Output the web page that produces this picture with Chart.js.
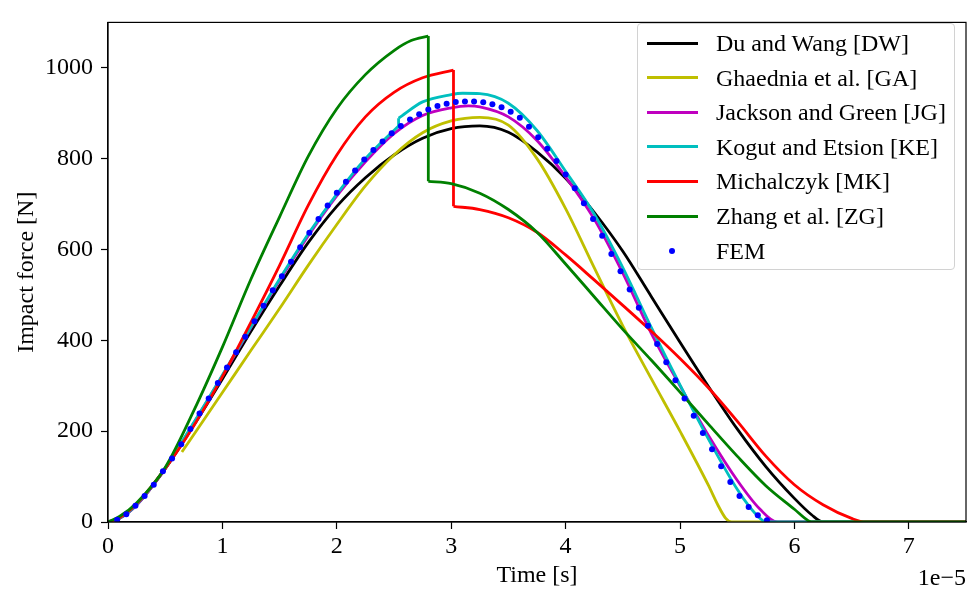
<!DOCTYPE html>
<html>
<head>
<meta charset="utf-8">
<title>Impact force</title>
<script src="https://cdn.jsdelivr.net/npm/chart.js@4.4.1/dist/chart.umd.min.js"></script>
<style>
  html, body { margin: 0; padding: 0; background: #fff; }
  #wrap { position: relative; width: 976px; height: 590px; font-family: 'Liberation Serif', 'Times New Roman', serif; }
  #legend {
    position: absolute; left: 637px; top: 23px; width: 318px; height: 247px;
    box-sizing: border-box; border: 1px solid #d2d2d2; border-radius: 4px;
    background: rgba(255, 255, 255, 0.8); font-size: 24px; color: #000;
  }
  .row { position: absolute; left: 0; right: 0; height: 34px; line-height: 34px; }
  .row .line { position: absolute; left: 9px; width: 51px; top: 15.5px; height: 3px; }
  .row .dot { position: absolute; left: 31px; top: 14px; width: 6px; height: 6px; border-radius: 50%; }
  .row .txt { position: absolute; left: 78px; white-space: nowrap; }
  #offset { position: absolute; right: 10px; top: 562px; font-size: 24px; line-height: 30px; }
</style>
</head>
<body>
<div id="wrap">
  <canvas id="chart" width="976" height="590"></canvas>
  <div id="legend"></div>
  <div id="offset">1e&minus;5</div>
</div>
<script>
// Impact force vs time, contact models compared with FEM
// time values are in units of 1e-5 s (see the offset label)

const seriesNames = [
    'Du and Wang [DW]',
    'Ghaednia et al. [GA]',
    'Jackson and Green [JG]',
    'Kogut and Etsion [KE]',
    'Michalczyk [MK]',
    'Zhang et al. [ZG]',
    'FEM'
];

const xTicks = [0, 1, 2, 3, 4, 5, 6, 7];
const yTicks = [0, 200, 400, 600, 800, 1000];

// Du and Wang
const dwTime  = [0, 0.1, 0.25, 0.5, 0.75, 1.0, 1.25, 1.5, 1.75, 2.0, 2.25, 2.5, 2.75, 3.0, 3.25, 3.5, 3.75, 4.0, 4.25, 4.5, 4.75, 5.0, 5.25, 5.5, 5.75, 6.0, 6.15, 6.25, 7.5];
const dwForce = [0, 8, 38, 117, 213, 315, 420, 520, 615, 695, 758, 808, 845, 866, 872, 858, 815, 757, 682, 596, 496, 396, 298, 205, 122, 52, 16, 0, 0];

// Ghaednia et al.
const gaTime  = [0.646, 1.0, 1.25, 1.5, 1.75, 2.0, 2.25, 2.5, 2.75, 3.0, 3.25, 3.5, 3.75, 4.0, 4.25, 4.5, 4.75, 5.0, 5.25, 5.33, 5.4, 5.45, 7.5];
const gaForce = [154, 285, 378, 470, 565, 655, 740, 808, 857, 883, 891, 874, 800, 690, 560, 432, 315, 200, 80, 38, 8, 0, 0];

// Jackson and Green
const jgTime  = [0, 0.1, 0.25, 0.5, 0.75, 1.0, 1.25, 1.5, 1.75, 2.0, 2.25, 2.5, 2.75, 3.0, 3.15, 3.25, 3.5, 3.75, 4.0, 4.25, 4.5, 4.75, 5.0, 5.25, 5.5, 5.7, 5.85, 7.5];
const jgForce = [0, 8, 37, 118, 218, 322, 428, 532, 630, 718, 793, 855, 895, 912, 916, 914, 892, 840, 760, 667, 548, 415, 300, 190, 92, 28, 0, 0];

// Kogut and Etsion (small step at ~2.54)
const keTime  = [0, 0.1, 0.25, 0.5, 0.75, 1.0, 1.25, 1.5, 1.75, 2.0, 2.25, 2.54, 2.54, 2.75, 3.0, 3.1, 3.25, 3.5, 3.75, 4.0, 4.25, 4.5, 4.75, 5.0, 5.25, 5.5, 5.6, 5.7, 5.75, 7.5];
const keForce = [0, 8, 38, 119, 219, 324, 430, 535, 634, 722, 800, 872, 889, 925, 941, 944, 943, 922, 862, 772, 678, 560, 428, 302, 182, 72, 36, 8, 0, 0];

// Michalczyk (drop at ~3.02)
const mkTime  = [0, 0.1, 0.25, 0.5, 0.75, 1.0, 1.25, 1.5, 1.75, 2.0, 2.25, 2.5, 2.75, 3.02, 3.02, 3.25, 3.5, 3.75, 4.0, 4.25, 4.5, 4.75, 5.0, 5.25, 5.5, 5.75, 6.0, 6.25, 6.5, 6.62, 7.5];
const mkForce = [0, 9, 40, 118, 212, 320, 440, 565, 697, 808, 892, 946, 978, 995, 695, 688, 670, 638, 588, 533, 477, 420, 360, 295, 222, 145, 82, 38, 8, 0, 0];

// Zhang et al. (drop at ~2.8)
const zgTime  = [0, 0.1, 0.25, 0.5, 0.75, 1.0, 1.25, 1.5, 1.75, 2.0, 2.25, 2.5, 2.65, 2.8, 2.8, 3.0, 3.25, 3.5, 3.75, 4.0, 4.25, 4.5, 4.75, 5.0, 5.25, 5.5, 5.75, 6.0, 6.12, 6.15, 7.5];
const zgForce = [0, 12, 42, 120, 245, 385, 535, 672, 805, 910, 985, 1038, 1060, 1070, 750, 745, 724, 688, 638, 568, 496, 424, 356, 286, 215, 145, 80, 28, 3, 0, 0];

// FEM samples
const femTime  = [0.08, 0.16, 0.24, 0.32, 0.40, 0.48, 0.56, 0.64, 0.72, 0.80, 0.88, 0.96, 1.04, 1.12, 1.20, 1.28, 1.36, 1.44, 1.52, 1.60,
                  1.68, 1.76, 1.84, 1.92, 2.00, 2.08, 2.16, 2.24, 2.32, 2.40, 2.48, 2.56, 2.64, 2.72, 2.80, 2.88, 2.96, 3.04, 3.12, 3.20,
                  3.28, 3.36, 3.44, 3.52, 3.60, 3.68, 3.76, 3.84, 3.92, 4.00, 4.08, 4.16, 4.24, 4.32, 4.40, 4.48, 4.56, 4.64, 4.72, 4.80,
                  4.88, 4.96, 5.04, 5.12, 5.20, 5.28, 5.36, 5.44, 5.52, 5.60, 5.68, 5.76];
const femForce = [5, 17, 36, 57, 82, 112, 140, 171, 205, 239, 272, 306, 340, 374, 408, 442, 476, 510, 541, 573,
                  605, 637, 667, 697, 725, 749, 774, 798, 819, 838, 856, 872, 886, 898, 908, 916, 921, 925, 926, 926,
                  924, 920, 913, 903, 890, 870, 847, 822, 795, 765, 735, 702, 667, 630, 590, 552, 512, 472, 432, 392,
                  352, 312, 272, 234, 196, 160, 123, 88, 57, 33, 15, 4];

const lineColors = ['#000000', '#bfbf00', '#bf00bf', '#00bfbf', '#ff0000', '#008000'];
const femColor = '#0000ff';
const FONT = "'Liberation Serif', 'Times New Roman', serif";
const FONT_SIZE = 24;

// Split a series where the time repeats (vertical jump), so the smooth
// pieces can use monotone interpolation and the jumps stay straight.
function splitPieces(times, forces) {
    const pieces = [];
    let cur = [];
    times.forEach((t, i) => {
        const p = { x: t, y: forces[i] };
        const last = cur[cur.length - 1];
        if (last && last.x === t) {
            pieces.push({ pts: cur, smooth: true });
            pieces.push({ pts: [last, p], smooth: false });
            cur = [p];
        } else {
            cur.push(p);
        }
    });
    pieces.push({ pts: cur, smooth: true });
    return pieces;
}

function lineDatasets(idx, times, forces) {
    return splitPieces(times, forces).map((piece, k) => ({
        label: seriesNames[idx],
        legendItem: k === 0,
        data: piece.pts,
        order: seriesNames.length - idx,
        borderColor: lineColors[idx],
        backgroundColor: lineColors[idx],
        borderWidth: 2.8,
        borderCapStyle: 'butt',
        pointRadius: 0,
        tension: 0,
        cubicInterpolationMode: piece.smooth ? 'monotone' : 'default',
        fill: false,
        clip: 0
    }));
}

const datasets = [
    ...lineDatasets(0, dwTime, dwForce),
    ...lineDatasets(1, gaTime, gaForce),
    ...lineDatasets(2, jgTime, jgForce),
    ...lineDatasets(3, keTime, keForce),
    ...lineDatasets(4, mkTime, mkForce),
    ...lineDatasets(5, zgTime, zgForce),
    {
        label: seriesNames[6],
        legendItem: true,
        data: femTime.map((t, i) => ({ x: t, y: femForce[i] })),
        order: 0,
        showLine: false,
        pointRadius: 3,
        pointBorderWidth: 0,
        pointBackgroundColor: femColor,
        backgroundColor: femColor,
        borderColor: femColor,
        clip: 0
    }
];

// full box around the axes, drawn over the curves like matplotlib spines
const framePlugin = {
    id: 'frame',
    afterDatasetsDraw(chart) {
        const { ctx, chartArea: a } = chart;
        ctx.save();
        ctx.strokeStyle = '#000';
        ctx.lineWidth = 1.2;
        ctx.strokeRect(a.left, a.top, a.right - a.left, a.bottom - a.top);
        ctx.restore();
    }
};

const axisGrid = {
    drawOnChartArea: false,
    drawTicks: true,
    tickLength: 7,
    tickColor: '#000',
    tickWidth: 1.2
};

const chart = new Chart(document.getElementById('chart').getContext('2d'), {
    type: 'line',
    data: { datasets },
    options: {
        responsive: false,
        animation: false,
        events: [],
        layout: { padding: { top: 10, right: 10, left: 0, bottom: 0 } },
        plugins: {
            legend: { display: false },
            tooltip: { enabled: false }
        },
        scales: {
            x: {
                type: 'linear',
                min: 0,
                max: 7.5,
                afterBuildTicks: (scale) => { scale.ticks = xTicks.map(v => ({ value: v })); },
                afterFit: (scale) => { scale.height = 68; },
                grid: axisGrid,
                border: { display: true, color: '#000', width: 1.2 },
                ticks: {
                    color: '#000',
                    padding: 3,
                    maxRotation: 0,
                    font: { family: FONT, size: FONT_SIZE },
                    callback: (v) => String(v)
                },
                title: {
                    display: true,
                    text: 'Time [s]',
                    color: '#000',
                    font: { family: FONT, size: FONT_SIZE },
                    padding: { top: 0, bottom: 0 }
                }
            },
            y: {
                type: 'linear',
                min: 0,
                max: 1100,
                afterBuildTicks: (scale) => { scale.ticks = yTicks.map(v => ({ value: v })); },
                afterFit: (scale) => { scale.width = 108; },
                grid: axisGrid,
                border: { display: true, color: '#000', width: 1.2 },
                ticks: {
                    color: '#000',
                    padding: 8,
                    font: { family: FONT, size: FONT_SIZE },
                    callback: (v) => String(v)
                },
                title: {
                    display: true,
                    text: 'Impact force [N]',
                    color: '#000',
                    font: { family: FONT, size: FONT_SIZE },
                    padding: { top: 12, bottom: 0 }
                }
            }
        }
    },
    plugins: [framePlugin]
});

// legend box in the upper right corner, built from the chart's datasets
function buildLegend(chartInstance) {
    const box = document.getElementById('legend');
    chartInstance.data.datasets.filter(ds => ds.legendItem).forEach((ds, i) => {
        const row = document.createElement('div');
        row.className = 'row';
        row.style.top = (2 + i * 34.6) + 'px';
        const handle = document.createElement('div');
        if (ds.showLine === false) {
            handle.className = 'dot';
            handle.style.background = ds.pointBackgroundColor;
        } else {
            handle.className = 'line';
            handle.style.background = ds.borderColor;
        }
        const txt = document.createElement('span');
        txt.className = 'txt';
        txt.textContent = ds.label;
        row.appendChild(handle);
        row.appendChild(txt);
        box.appendChild(row);
    });
}

buildLegend(chart);
</script>
</body>
</html>
